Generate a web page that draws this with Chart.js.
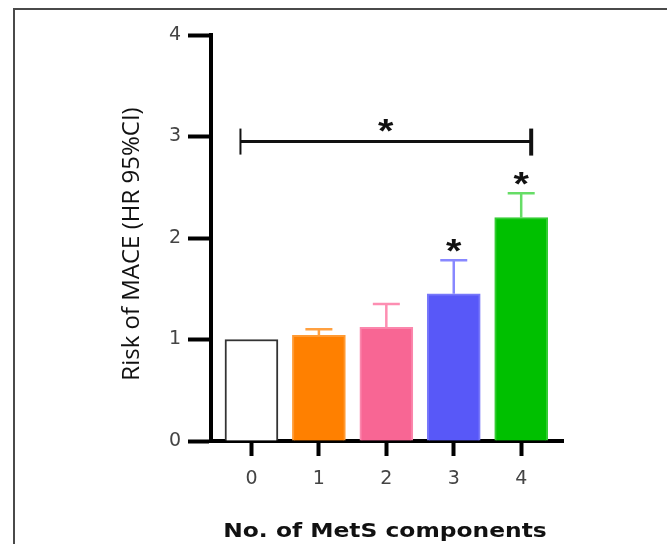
<!DOCTYPE html>
<html>
<head>
<meta charset="utf-8">
<script src="https://cdn.jsdelivr.net/npm/chart.js@4.4.0/dist/chart.umd.min.js"></script>
<style>
  html, body { margin: 0; padding: 0; background: #fff; }
  #wrap { position: relative; width: 667px; height: 544px; overflow: hidden; }
  #frame { position: absolute; left: 13px; top: 8px; width: 700px; height: 600px;
           border-top: 2px solid #4a4a4a; border-left: 2px solid #4a4a4a; pointer-events: none; }
</style>
</head>
<body>
<div id="wrap">
  <canvas id="chart" width="667" height="544"></canvas>
  <div id="frame"></div>
</div>
<script>
// Daten
const categories = ['0', '1', '2', '3', '4'];
const hrValues = [1.0, 1.04, 1.12, 1.45, 2.20];
const ciUpper = [null, 1.10, 1.35, 1.78, 2.44];
const significant = [false, false, false, true, true];
const yTicks = [0, 1, 2, 3, 4];
const bracket = { from: 0, to: 4, level: 2.95 };
const yTitle = 'Risk of MACE (HR 95%CI)';
const xTitle = 'No. of MetS components';

// Farben
const barColors = ['#ffffff', '#ff8000', '#f86694', '#5858f8', '#00c000'];
const borderColors = ['#333333', '#ff9a33', '#fb86ac', '#7878fa', '#33cc33'];
const errColors = ['#333333', '#ffa040', '#fd8eb2', '#8888ff', '#66dd66'];

// Stern zentriert auf (cx, cy)
function drawStar(ctx, cx, cy) {
  ctx.save();
  ctx.fillStyle = '#111';
  ctx.font = 'bold 33px "Liberation Sans"';
  ctx.textAlign = 'center';
  ctx.textBaseline = 'alphabetic';
  const m = ctx.measureText('*');
  const base = cy + (m.actualBoundingBoxAscent - m.actualBoundingBoxDescent) / 2;
  ctx.translate(cx, base);
  ctx.scale(1.2, 1);
  ctx.fillText('*', 0, 0);
  ctx.restore();
}

// Fehlerbalken, Sterne, Klammer und Achsentitel
const annotations = {
  id: 'annotations',
  afterDatasetsDraw(chart) {
    const { ctx, scales: { x, y } } = chart;
    const bars = chart.getDatasetMeta(0).data;
    ctx.save();
    ciUpper.forEach((u, i) => {
      if (u == null) return;
      const bx = bars[i].x;
      const top = y.getPixelForValue(hrValues[i]);
      const up = y.getPixelForValue(u);
      ctx.strokeStyle = errColors[i];
      ctx.lineWidth = 2.5;
      ctx.beginPath();
      ctx.moveTo(bx, top);
      ctx.lineTo(bx, up);
      ctx.moveTo(bx - 13.5, up);
      ctx.lineTo(bx + 13.5, up);
      ctx.stroke();
      if (significant[i]) drawStar(ctx, bx, up - 15);
    });

    const x0 = x.getPixelForValue(bracket.from) - 11;
    const x1 = x.getPixelForValue(bracket.to) + 10;
    const by = y.getPixelForValue(bracket.level);
    ctx.strokeStyle = '#111';
    ctx.lineWidth = 3;
    ctx.beginPath();
    ctx.moveTo(x0, by);
    ctx.lineTo(x1, by);
    ctx.stroke();
    ctx.lineWidth = 2;
    ctx.beginPath();
    ctx.moveTo(x0, by - 13);
    ctx.lineTo(x0, by + 13);
    ctx.stroke();
    ctx.lineWidth = 4;
    ctx.beginPath();
    ctx.moveTo(x1, by - 13);
    ctx.lineTo(x1, by + 14);
    ctx.stroke();
    drawStar(ctx, (x0 + x1) / 2, by - 16);

    // x-Titel
    ctx.save();
    ctx.fillStyle = '#111';
    ctx.font = 'bold 19px "DejaVu Sans"';
    ctx.textAlign = 'center';
    ctx.textBaseline = 'middle';
    ctx.translate(385, 532);
    ctx.scale(1.23, 1);
    ctx.fillText(xTitle, 0, 0);
    ctx.restore();

    // y-Titel
    ctx.save();
    ctx.fillStyle = '#111';
    ctx.font = '24px "Open Sans"';
    ctx.textAlign = 'center';
    ctx.textBaseline = 'middle';
    ctx.translate(132, 244);
    ctx.rotate(-Math.PI / 2);
    ctx.fillText(yTitle, 0, 0);
    ctx.restore();
    ctx.restore();
  }
};

const tickFont = { family: 'DejaVu Sans', size: 19 };

new Chart(document.getElementById('chart'), {
  type: 'bar',
  data: {
    datasets: [{
      data: hrValues.map((v, i) => ({ x: i, y: v })),
      backgroundColor: barColors,
      borderColor: borderColors,
      borderWidth: 2,
      borderSkipped: 'bottom',
      barThickness: 53
    }]
  },
  options: {
    responsive: false,
    animation: false,
    layout: { padding: { top: 35, right: 104, left: 0, bottom: 0 } },
    plugins: { legend: { display: false }, tooltip: { enabled: false } },
    scales: {
      x: {
        type: 'linear',
        min: -0.6,
        max: 4.62,
        offset: false,
        afterBuildTicks: s => { s.ticks = categories.map((c, i) => ({ value: i })); },
        afterFit: s => { s.height = 103; },
        ticks: { callback: v => categories[v], font: tickFont, color: '#444', padding: 12, maxRotation: 0 },
        grid: { offset: false, drawOnChartArea: false, drawTicks: true, tickLength: 15, tickWidth: 4, tickColor: '#000' },
        border: { display: true, color: '#000', width: 4 }
      },
      y: {
        min: 0,
        max: 4,
        afterBuildTicks: s => { s.ticks = yTicks.map(v => ({ value: v })); },
        afterFit: s => { s.width = 211; },
        ticks: { font: tickFont, color: '#444', padding: 7 },
        grid: { drawOnChartArea: false, drawTicks: true, tickLength: 23, tickWidth: 4, tickColor: '#000' },
        border: { display: true, color: '#000', width: 4 }
      }
    }
  },
  plugins: [annotations]
});
</script>
</body>
</html>
